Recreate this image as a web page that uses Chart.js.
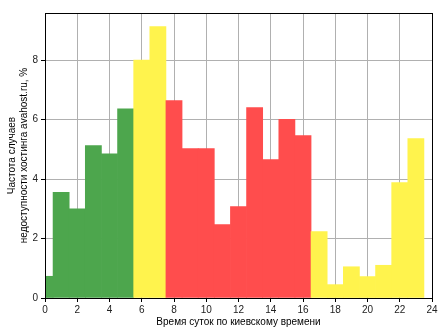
<!DOCTYPE html>
<html>
<head>
<meta charset="utf-8">
<script src="https://cdn.jsdelivr.net/npm/chart.js@4/dist/chart.umd.min.js"></script>
<style>
  html, body { margin: 0; padding: 0; background: #fff; }
  #wrap { width: 448px; height: 336px; }
</style>
</head>
<body>
<div id="wrap"><canvas id="chart" width="448" height="336"></canvas></div>
<script>
// hour of day (Kyiv time) and outage frequency, %
const hours = [0, 1, 2, 3, 4, 5, 6, 7, 8, 9, 10, 11, 12, 13, 14, 15, 16, 17, 18, 19, 20, 21, 22, 23];
const freq = [0.73, 3.55, 3.00, 5.12, 4.85, 6.36, 8.00, 9.12, 6.64, 5.02, 5.02, 2.47,
              3.07, 6.40, 4.65, 6.01, 5.46, 2.23, 0.45, 1.05, 0.72, 1.10, 3.88, 5.36];
const xTicks = [0, 2, 4, 6, 8, 10, 12, 14, 16, 18, 20, 22, 24];
const yTicks = [0, 2, 4, 6, 8];

const GREEN = 'rgb(77,166,77)';
const YELLOW = 'rgb(255,243,77)';
const RED = 'rgb(255,77,77)';

function barColor(h) {
    if (h <= 5) return GREEN;
    if (h <= 7) return YELLOW;
    if (h <= 16) return RED;
    return YELLOW;
}

// black frame round the plot area
const frame = {
    id: 'frame',
    afterDraw(chart) {
        const { ctx, chartArea: a } = chart;
        ctx.save();
        ctx.strokeStyle = '#000';
        ctx.lineWidth = 1;
        ctx.strokeRect(Math.round(a.left) + 0.5, Math.round(a.top) + 0.5,
            Math.round(a.right - a.left), Math.round(a.bottom - a.top));
        ctx.restore();
    }
};

const font = { family: "'Liberation Sans', Arial, sans-serif", size: 10 };

new Chart(document.getElementById('chart').getContext('2d'), {
    type: 'bar',
    data: {
        datasets: [{
            data: hours.map((h, i) => ({ x: h, y: freq[i] })),
            backgroundColor: hours.map(barColor),
            borderWidth: 0,
            barPercentage: 1,
            categoryPercentage: 1
        }]
    },
    options: {
        responsive: false,
        animation: false,
        layout: { padding: { top: 13, right: 16, left: 0, bottom: 0 } },
        plugins: { legend: { display: false }, tooltip: { enabled: false } },
        scales: {
            x: {
                type: 'linear',
                min: 0,
                max: 24,
                offset: false,
                z: 1,
                afterBuildTicks: s => { s.ticks = xTicks.map(v => ({ value: v })); },
                afterFit: s => { s.height = 38; },
                grid: { color: '#b0b0b0', tickColor: '#000', tickLength: 4, offset: false },
                border: { display: false },
                ticks: { font, color: '#222', padding: 2, maxRotation: 0 },
                title: {
                    display: true,
                    text: 'Время суток по киевскому времени',
                    font, color: '#000',
                    padding: { top: 2, bottom: 8 }
                }
            },
            y: {
                min: 0,
                max: 9.58,
                z: 1,
                afterBuildTicks: s => { s.ticks = yTicks.map(v => ({ value: v })); },
                afterFit: s => { s.width = 45; },
                grid: { color: '#b0b0b0', tickColor: '#000', tickLength: 4 },
                border: { display: false },
                ticks: { font, color: '#222', padding: 3 },
                title: {
                    display: true,
                    text: ['Частота случаев', 'недоступности хостинга avahost.ru, %'],
                    font, color: '#000',
                    padding: { top: 6, bottom: 2 }
                }
            }
        }
    },
    plugins: [frame]
});
</script>
</body>
</html>
